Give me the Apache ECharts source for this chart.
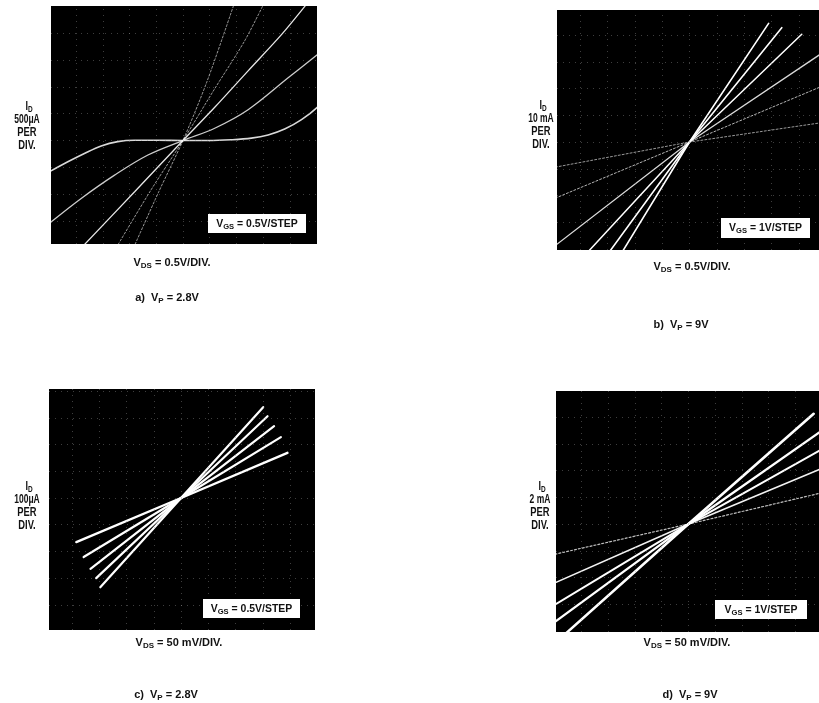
<!DOCTYPE html>
<html><head><meta charset="utf-8">
<script src="https://cdn.jsdelivr.net/npm/echarts@6/dist/echarts.min.js"></script>
<style>html,body{margin:0;padding:0;background:#fff}#c{width:819px;height:703px}</style>
</head><body><div id="c"></div><script>
// ---------- DATA (in screen divisions, origin at trace crossing) ----------
const gridDivs = [-5,-4,-3,-2,-1,0,1,2,3,4,5];

// a) Vp = 2.8V, VDS 0.5V/div, ID 500uA/div
const aCurve1 = [[-4.94,-1.13],[-4.31,-0.79],[-3.69,-0.48],[-3.06,-0.2],[-2.44,-0.04],[-1.81,0.01],[-0.94,0.01],[0,0],[0.94,0],[1.81,0.03],[2.56,0.09],[3.19,0.21],[3.81,0.43],[4.44,0.78],[5.04,1.25]];
const aCurve2 = [[-4.94,-3.04],[-3.81,-2.16],[-2.56,-1.29],[-1.31,-0.54],[0,0],[1.19,0.46],[2.44,1.15],[3.94,2.34],[5.04,3.21]];
const aCurve3 = [[-3.8,-4.0],[-1.8,-1.9],[0,0],[1.2,1.25],[2.44,2.6],[3.69,3.95],[4.6,5.05]];
const aCurve4 = [[-2.5,-4.0],[-1.2,-1.85],[0,0],[1.2,1.95],[2.3,3.7],[3.0,5.05]];
const aCurve5 = [[-1.85,-4.0],[-0.9,-1.9],[0,0],[0.9,2.2],[1.9,5.05]];

// b) Vp = 9V, VDS 0.5V/div, ID 10mA/div
const bCurve1 = [[-2.45,-4.1],[0,0],[2.89,4.44]];
const bCurve2 = [[-2.92,-4.1],[0,0],[3.37,4.28]];
const bCurve3 = [[-3.7,-4.1],[0,0],[4.10,4.03]];
const bCurve4 = [[-4.9,-3.87],[0,0],[4.8,3.3]];
const bCurve5 = [[-4.9,-2.1],[0,0],[4.8,2.07]];
const bCurve6 = [[-4.9,-0.94],[0,0],[4.8,0.72]];

// c) Vp = 2.8V, VDS 50mV/div, ID 100uA/div
const cCurve1 = [[-2.96,-3.34],[0,0],[3.01,3.4]];
const cCurve2 = [[-3.11,-3.0],[0,0],[3.17,3.06]];
const cCurve3 = [[-3.32,-2.65],[0,0],[3.41,2.69]];
const cCurve4 = [[-3.57,-2.21],[0,0],[3.66,2.28]];
const cCurve5 = [[-3.84,-1.65],[0,0],[3.90,1.69]];

// d) Vp = 9V, VDS 50mV/div, ID 2mA/div
const dCurve1 = [[-4.6,-4.1],[0,0],[4.69,4.125]];
const dCurve2 = [[-5.0,-3.66],[0,0],[5.0,3.5]];
const dCurve3 = [[-5.0,-3.02],[0,0],[5.0,2.8]];
const dCurve4 = [[-5.0,-2.2],[0,0],[5.0,2.08]];
const dCurve5 = [[-5.0,-1.13],[0,0],[5.0,1.17]];

// text
const idUnits = ['500\u03bcA','10 mA','100\u03bcA','2 mA'];
const vdsScales = ['0.5V/DIV.','0.5V/DIV.','50 mV/DIV.','50 mV/DIV.'];
const vgsSteps = ['0.5V/STEP','1V/STEP','0.5V/STEP','1V/STEP'];
const captions = [['a)','2.8V'],['b)','9V'],['c)','2.8V'],['d)','9V']];

// ---------- LAYOUT ----------
const F = "'Liberation Sans','DejaVu Sans',sans-serif";
const panels = [
  {box:[51,6,266,238],  xr:[-4.94,5.02], yr:[-3.86,5.02], idX:27,  idY:107, vdsX:172, vdsY:263, capX:167, capY:298, vgs:[208,214,98,19]},
  {box:[557,10,265,240],xr:[-4.84,4.73], yr:[-4.04,4.94], idX:541, idY:106, vdsX:692, vdsY:267, capX:681, capY:325, vgs:[721,218,89,20]},
  {box:[49,389,266,241],xr:[-4.84,4.91], yr:[-4.94,4.08], idX:27,  idY:487, vdsX:179, vdsY:643, capX:166, capY:695, vgs:[203,599,97,19]},
  {box:[556,391,266,241],xr:[-4.96,4.89],yr:[-4.04,4.98], idX:540, idY:487, vdsX:687, vdsY:643, capX:690, capY:695, vgs:[715,600,92,19]}
];
const curveSets = [
  [[aCurve1,{w:1.6,o:0.85,t:'solid',s:0.35}],[aCurve2,{w:1.3,o:0.8,t:'solid',s:0.35}],[aCurve3,{w:1.3,o:0.9,t:'solid',s:0.3}],[aCurve4,{w:1,o:0.6,t:'dotted',s:0.3}],[aCurve5,{w:1,o:0.6,t:'dotted',s:0.3}]],
  [[bCurve1,{w:1.6,o:1,t:'solid'}],[bCurve2,{w:1.6,o:1,t:'solid'}],[bCurve3,{w:1.5,o:1,t:'solid'}],[bCurve4,{w:1.3,o:0.85,t:'solid'}],[bCurve5,{w:1,o:0.7,t:'dotted'}],[bCurve6,{w:1,o:0.6,t:'dotted'}]],
  [[cCurve1,{w:2.2,o:1,t:'solid'}],[cCurve2,{w:2.2,o:1,t:'solid'}],[cCurve3,{w:2.2,o:1,t:'solid'}],[cCurve4,{w:2.2,o:1,t:'solid'}],[cCurve5,{w:2.4,o:1,t:'solid'}]],
  [[dCurve1,{w:2.6,o:1,t:'solid'}],[dCurve2,{w:2.3,o:1,t:'solid'}],[dCurve3,{w:2.0,o:1,t:'solid'}],[dCurve4,{w:1.6,o:0.95,t:'solid'}],[dCurve5,{w:1.2,o:0.75,t:'dotted'}]]
];

const grids=[], xAxes=[], yAxes=[], series=[], graphic=[];
const rich = {
  n:{fontSize:11,fontWeight:'bold',fontFamily:F,fill:'#111',lineHeight:14,verticalAlign:'middle'},
  s:{fontSize:8,fontWeight:'bold',fontFamily:F,fill:'#111',lineHeight:8,verticalAlign:'bottom'},
  N:{fontSize:12.5,fontWeight:'bold',fontFamily:F,fill:'#111',lineHeight:14,verticalAlign:'middle'},
  S:{fontSize:9,fontWeight:'bold',fontFamily:F,fill:'#111',lineHeight:9,verticalAlign:'bottom'}
};
function txt(x,y,text,sx){
  graphic.push({type:'text',x:x,y:y,z:10,scaleX:sx||1,style:{text:text,rich:rich,align:'center',verticalAlign:'middle',fontSize:11,fontWeight:'bold',fontFamily:F,fill:'#111'}});
}
panels.forEach((p,i)=>{
  grids.push({left:p.box[0],top:p.box[1],width:p.box[2],height:p.box[3],show:true,backgroundColor:'#000',borderWidth:0});
  xAxes.push({type:'value',gridIndex:i,min:p.xr[0],max:p.xr[1],show:false,splitLine:{show:false}});
  yAxes.push({type:'value',gridIndex:i,min:p.yr[0],max:p.yr[1],show:false,splitLine:{show:false}});
  const ml = [];
  gridDivs.forEach(v=>{ if(v>p.xr[0]+0.05 && v<p.xr[1]-0.05) ml.push({xAxis:v}); });
  gridDivs.forEach(v=>{ if(v>p.yr[0]+0.05 && v<p.yr[1]-0.05) ml.push({yAxis:v}); });
  series.push({type:'line',xAxisIndex:i,yAxisIndex:i,data:[],silent:true,
    markLine:{silent:true,symbol:['none','none'],label:{show:false},animation:false,
      lineStyle:{type:[1,5],color:'#9a9a9a',width:1,opacity:0.4},data:ml}});
  curveSets[i].forEach(([d,st])=>{
    series.push({type:'line',xAxisIndex:i,yAxisIndex:i,data:d,showSymbol:false,silent:true,animation:false,
      smooth:st.s||false,clip:true,
      lineStyle:{color:'#fff',width:st.w,opacity:st.o,type:st.t==='dotted'?[2,2]:'solid',cap:'round'}});
  });
  // labels
  txt(p.idX+2,p.idY,'{N|I}{S|D}',0.72);
  txt(p.idX,p.idY+12.5,'{N|'+idUnits[i]+'}',0.68);
  txt(p.idX,p.idY+25.5,'{N|PER}',0.75);
  txt(p.idX,p.idY+38.5,'{N|DIV.}',0.75);
  txt(p.vdsX,p.vdsY,'{n|V}{s|DS}{n| = '+vdsScales[i]+'}',1);
  txt(p.capX,p.capY,'{n|'+captions[i][0]+'  V}{s|P}{n| = '+captions[i][1]+'}',1);
  graphic.push({type:'rect',z:9,shape:{x:p.vgs[0],y:p.vgs[1],width:p.vgs[2],height:p.vgs[3]},style:{fill:'#fff'}});
  txt(p.vgs[0]+p.vgs[2]/2,p.vgs[1]+p.vgs[3]/2,'{n|V}{s|GS}{n| = '+vgsSteps[i]+'}',0.95);
});

const chart = echarts.init(document.getElementById('c'),null,{renderer:'canvas'});
chart.setOption({animation:false,backgroundColor:'#fff',grid:grids,xAxis:xAxes,yAxis:yAxes,series:series,graphic:graphic});
</script></body></html>
